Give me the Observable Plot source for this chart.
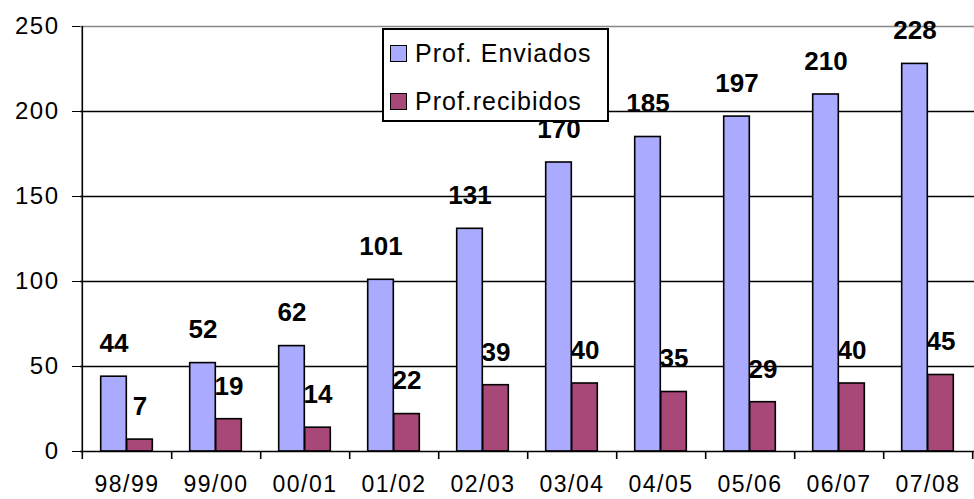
<!DOCTYPE html>
<html><head><meta charset="utf-8">
<script src="https://cdn.jsdelivr.net/npm/d3@7"></script>
<script src="https://cdn.jsdelivr.net/npm/@observablehq/plot@0.6"></script>
<style>
body{margin:0;background:#fff;}
#wrap{position:relative;width:974px;height:499px;overflow:hidden;}
#legend{position:absolute;left:382px;top:28px;width:223px;height:90px;border:2px solid #000;background:#fff;font-family:"Liberation Sans",Arial,sans-serif;font-size:25px;letter-spacing:1px;color:#000;}
.row{position:absolute;left:6px;display:flex;align-items:center;height:29px;white-space:nowrap;}
.sw{width:15px;height:15px;border:1.6px solid #000;margin-right:8px;box-sizing:content-box;}
svg g[aria-label^="x-axis"] text, svg g[aria-label^="y-axis"] text{letter-spacing:1.5px;}
svg g[aria-label^="x-axis"] text{font-size:23px;}
</style>
</head><body>
<div id="wrap"><div id="legend"></div></div>
<script>
const categories = ["98/99","99/00","00/01","01/02","02/03","03/04","04/05","05/06","06/07","07/08"];
const enviados = [44,52,62,101,131,170,185,197,210,228];
const recibidos = [7,19,14,22,39,40,35,29,40,45];
const seriesNames = ["Prof. Enviados","Prof.recibidos"];
const colors = ["#aaaaff","#a84878"];
const yTicks = [0,50,100,150,200,250];

const env = categories.map((c,i)=>({cat:c, value:enviados[i]}));
const rec = categories.map((c,i)=>({cat:c, value:recibidos[i]}));

const W = 974, ML = 80, MR = 0;
const half = (W - ML - MR) / categories.length / 2;
const barW = 26;

const chart = Plot.plot({
  width: W, height: 499,
  marginLeft: ML, marginRight: MR, marginTop: 26, marginBottom: 48,
  style: {fontFamily: '"Liberation Sans", Arial, sans-serif', fontSize: "24px", color: "#000", background: "#fff", overflow: "visible"},
  x: {domain: categories, padding: 0, label: null, tickSize: 0, tickPadding: 24},
  y: {domain: [0,250], ticks: yTicks, label: null, tickSize: 8, tickPadding: 13},
  marks: [
    Plot.ruleY([50,100,150,200], {stroke:"#000", strokeWidth:1.6}),
    Plot.ruleY([250], {stroke:"#888", strokeWidth:1.6}),
    Plot.text(env, {x:"cat", y:"value", text:"value", dx:-barW/2, dy:-33, fontWeight:"bold", fontSize:26, fill:"#000"}),
    Plot.text(rec, {x:"cat", y:"value", text:"value", dx:barW/2, dy:-33, fontWeight:"bold", fontSize:26, fill:"#000"}),
    Plot.barY(env, {x:"cat", y:"value", fill:colors[0], stroke:"#000", strokeWidth:1.6, insetLeft:half-barW, insetRight:half}),
    Plot.barY(rec, {x:"cat", y:"value", fill:colors[1], stroke:"#000", strokeWidth:1.6, insetLeft:half, insetRight:half-barW}),
    Plot.ruleY([0], {stroke:"#000", strokeWidth:1.6}),
    Plot.ruleX(categories, {x:d=>d, dx:half, y1:0, y2:0, insetBottom:-8, stroke:"#000", strokeWidth:1.6}),
    Plot.ruleX([categories[0]], {x:d=>d, dx:-half, y1:250, y2:0, insetBottom:-8, stroke:"#000", strokeWidth:1.6})
  ]
});
const wrap = document.getElementById("wrap");
wrap.insertBefore(chart, wrap.firstChild);

const legend = document.getElementById("legend");
seriesNames.forEach((name,i)=>{
  const row = document.createElement("div");
  row.className = "row";
  row.style.top = (8.5 + i*48) + "px";
  const sw = document.createElement("div");
  sw.className = "sw";
  sw.style.background = colors[i];
  const t = document.createElement("span");
  t.textContent = name;
  row.appendChild(sw); row.appendChild(t);
  legend.appendChild(row);
});
</script>
</body></html>
